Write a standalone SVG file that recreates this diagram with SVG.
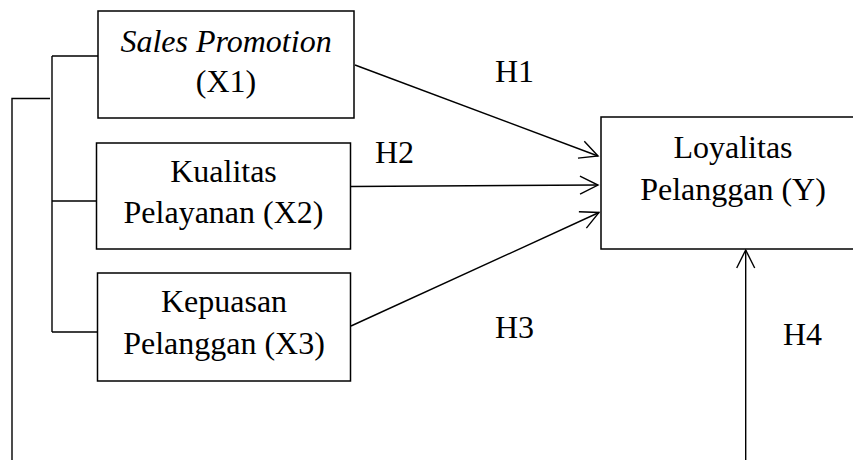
<svg xmlns="http://www.w3.org/2000/svg" width="853" height="460" viewBox="0 0 853 460">
<style>
.box{fill:#fff;stroke:#000;stroke-width:1.5}
.c{fill:none;stroke:#000;stroke-width:1.4}
text{font-family:'Liberation Serif','Times New Roman',serif;font-size:32px;fill:#000}
.t{text-anchor:middle}
</style>
<defs>
<marker id="arr" markerUnits="userSpaceOnUse" viewBox="-20 -11 22 22" refX="0" refY="0" markerWidth="22" markerHeight="22" orient="auto">
<path d="M-18,-9 L0,0 L-18,9" fill="none" stroke="#000" stroke-width="1.4"/>
</marker>
</defs>
<rect width="853" height="460" fill="#fff"/>
<g id="connectors">
<path class="c" d="M52,56 V332 M52,56 H98 M52,201 H97 M52,332 H98"/>
<path class="c" d="M12,460 V98.5 H50"/>
<line class="c" x1="355" y1="65" x2="598" y2="156" marker-end="url(#arr)"/>
<line class="c" x1="351" y1="186.5" x2="598" y2="185" marker-end="url(#arr)"/>
<line class="c" x1="351" y1="326" x2="599" y2="212.5" marker-end="url(#arr)"/>
<line class="c" x1="745.7" y1="460" x2="745.7" y2="250" marker-end="url(#arr)"/>
</g>
<g id="labels">
<text x="495" y="82">H1</text>
<text x="375" y="163">H2</text>
<text x="495" y="338">H3</text>
<text x="783" y="345">H4</text>
</g>
<g id="x1">
<rect class="box" x="98" y="11" width="256" height="107"/>
<text class="t" x="226" y="52" font-style="italic">Sales Promotion</text>
<text class="t" x="226" y="92">(X1)</text>
</g>
<g id="x2">
<rect class="box" x="96.5" y="143" width="254" height="106"/>
<text class="t" x="223.5" y="182">Kualitas</text>
<text class="t" x="223.5" y="223">Pelayanan (X2)</text>
</g>
<g id="x3">
<rect class="box" x="97.5" y="273" width="253" height="108"/>
<text class="t" x="224" y="312">Kepuasan</text>
<text class="t" x="224" y="354">Pelanggan (X3)</text>
</g>
<g id="y">
<rect class="box" x="601" y="117" width="270" height="132"/>
<text class="t" x="733" y="158">Loyalitas</text>
<text class="t" x="733" y="200">Pelanggan (Y)</text>
</g>
</svg>
